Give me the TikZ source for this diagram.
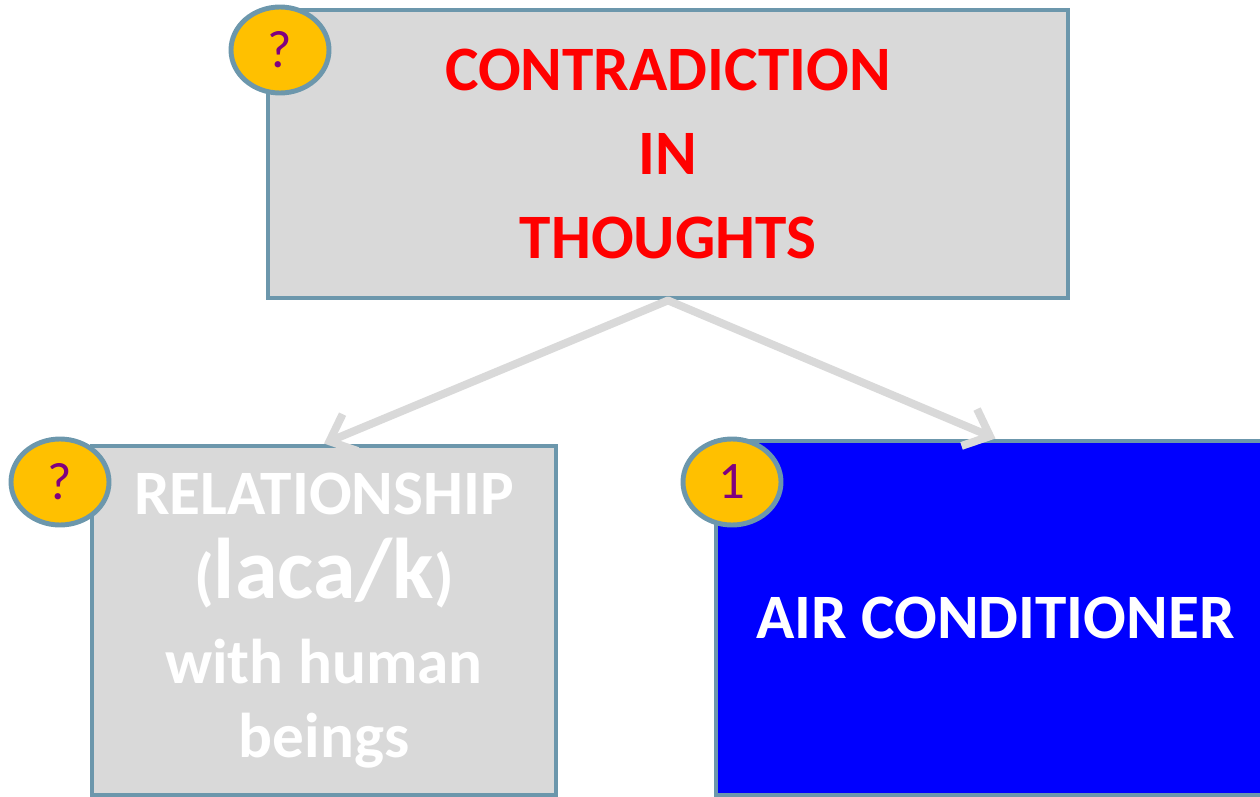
\documentclass[tikz,border=0pt]{standalone}
\usepackage{fontspec}
\setmainfont{Carlito}
\usepackage{tikz}
\usetikzlibrary{arrows.meta,shapes,positioning}
\definecolor{boxgray}{HTML}{D9D9D9}
\definecolor{edgeblue}{HTML}{6C97AC}
\definecolor{badgegold}{HTML}{FFC000}
\definecolor{markpurple}{HTML}{800080}

\begin{document}
\begin{tikzpicture}[
    box style/.style={rectangle, draw=edgeblue, line width=2.8pt, fill=boxgray, align=center, inner sep=0pt, font=\bfseries\fontsize{36}{42}\selectfont},
    badge style/.style={ellipse, draw=edgeblue, line width=2.8pt, fill=badgegold, text=markpurple, minimum width=1.96cm, minimum height=1.72cm, inner sep=0pt, font=\fontsize{30}{30}\selectfont},
    link style/.style={draw=boxgray, line width=4.5pt, line cap=round, -{Straight Barb[length=0.45cm, width=0.8cm]}}
]
\clip (0,0) rectangle (25.2,-15.94);
\node[box style, minimum width=16cm, minimum height=5.76cm, text=red] (thoughts) at (13.36,-3.08) {CONTRADICTION\\[6pt]IN\\[6pt]THOUGHTS};
\node[box style, minimum width=9.28cm, minimum height=6.98cm, text=white] (relation) at (6.48,-12.41) {RELATIONSHIP\\[6pt]({\fontsize{49}{52}\selectfont laca/k})\\[6pt]with human\\beings};
\node[box style, minimum width=11.18cm, minimum height=7.08cm, fill=blue, text=white] (aircon) at (19.91,-12.36) {AIR CONDITIONER};
\node[badge style] (qtop) at (5.6,-1.0) {?};
\node[badge style] (qleft) at (1.2,-9.64) {?};
\node[badge style] (one) at (14.64,-9.64) {1};
\draw[link style] (thoughts.south) -- (relation.north);
\draw[link style] (thoughts.south) -- (aircon.north);
\end{tikzpicture}
\end{document}
